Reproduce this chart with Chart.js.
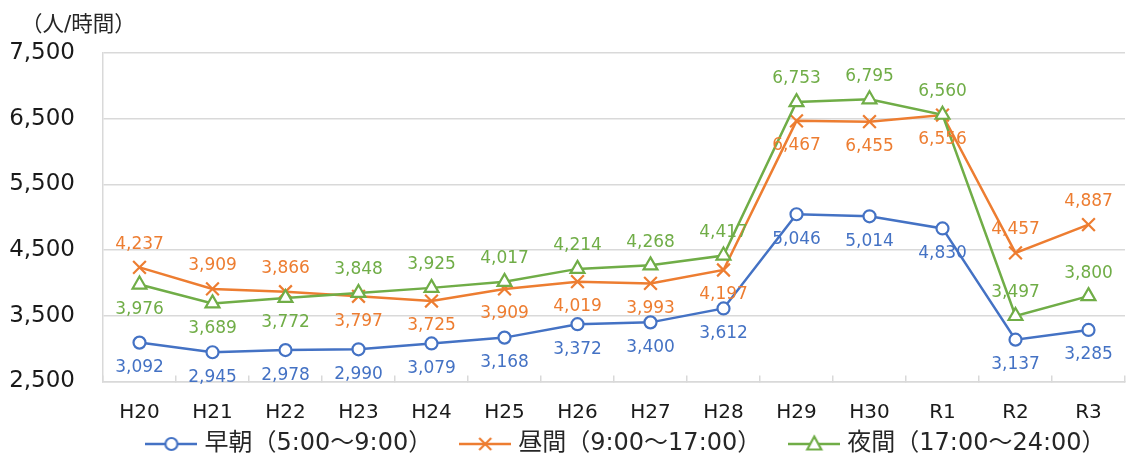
<!DOCTYPE html>
<html>
<head>
<meta charset="utf-8">
<script src="https://cdn.jsdelivr.net/npm/chart.js@4.4.0/dist/chart.umd.min.js"></script>
<style>
  html, body { margin: 0; padding: 0; background: #ffffff; overflow: hidden; }
  canvas { display: block; }
</style>
</head>
<body>
<canvas id="chart" width="1126" height="458"></canvas>
<script>
// Fiscal years (Heisei / Reiwa)
const categories = ['H20', 'H21', 'H22', 'H23', 'H24', 'H25', 'H26', 'H27', 'H28', 'H29', 'H30', 'R1', 'R2', 'R3'];

// Persons per hour by time band
const earlyMorning = [3092, 2945, 2978, 2990, 3079, 3168, 3372, 3400, 3612, 5046, 5014, 4830, 3137, 3285];
const daytime      = [4237, 3909, 3866, 3797, 3725, 3909, 4019, 3993, 4197, 6467, 6455, 6556, 4457, 4887];
const night        = [3976, 3689, 3772, 3848, 3925, 4017, 4214, 4268, 4417, 6753, 6795, 6560, 3497, 3800];

// Value axis ticks
const yTicks = [2500, 3500, 4500, 5500, 6500, 7500];

const seriesNames = ['早朝（5:00～9:00）', '昼間（9:00～17:00）', '夜間（17:00～24:00）'];
const unitLabel = '（人/時間）';

// Where each value label sits relative to its point
const earlyLabelSide = ['below','below','below','below','below','below','below','below','below','below','below','below','below','below'];
const dayLabelSide   = ['above','above','above','below','below','below','below','below','below','below','below','below','above','above'];
const nightLabelSide = ['below','below','below','above','above','above','above','above','above','above','above','above','above','above'];

const BLUE = '#4472C4';
const ORANGE = '#ED7D31';
const GREEN = '#70AD47';
const GRID = '#d9d9d9';
const NUM_FONT = '"DejaVu Sans", Verdana, sans-serif';
const MIX_FONT = '"DejaVu Sans", "Noto Sans CJK JP", sans-serif';
const X_LABEL_BAND = 47;

const labelSides = [earlyLabelSide, dayLabelSide, nightLabelSide];

// Legend swatches: a short line with the series marker in the middle
function makeSwatch(color, style) {
  const c = document.createElement('canvas');
  c.width = 52; c.height = 20;
  const g = c.getContext('2d');
  g.strokeStyle = color;
  g.lineWidth = 2.5;
  g.beginPath(); g.moveTo(0, 10); g.lineTo(52, 10); g.stroke();
  g.fillStyle = '#ffffff';
  g.lineWidth = 2.2;
  if (style === 'circle') {
    g.beginPath(); g.arc(26, 10, 6, 0, Math.PI * 2); g.fill(); g.stroke();
  } else if (style === 'crossRot') {
    g.beginPath();
    g.moveTo(20, 4); g.lineTo(32, 16);
    g.moveTo(32, 4); g.lineTo(20, 16);
    g.stroke();
  } else {
    g.beginPath();
    g.moveTo(26, 2.5); g.lineTo(33, 15.5); g.lineTo(19, 15.5); g.closePath();
    g.fill(); g.stroke();
  }
  return c;
}

const swatches = [makeSwatch(BLUE, 'circle'), makeSwatch(ORANGE, 'crossRot'), makeSwatch(GREEN, 'triangle')];

// Draws the numeric value next to every point
const valueLabels = {
  id: 'valueLabels',
  afterDatasetsDraw(chart) {
    const ctx = chart.ctx;
    ctx.save();
    ctx.font = '17px ' + NUM_FONT;
    ctx.textAlign = 'center';
    ctx.textBaseline = 'middle';
    chart.data.datasets.forEach((ds, di) => {
      const meta = chart.getDatasetMeta(di);
      const sides = labelSides[di];
      meta.data.forEach((pt, i) => {
        const y = pt.y + (sides[i] === 'above' ? -23 : 25);
        ctx.fillStyle = ds.borderColor;
        ctx.fillText(ds.data[i].toLocaleString('en-US'), pt.x, y);
      });
    });
    ctx.restore();
  }
};

// Unit caption above the value axis; the category label band and the legend
// share the space below the plot
const unitCaption = {
  id: 'unitCaption',
  afterLayout(chart) {
    const xs = chart.scales.x;
    if (xs) {
      xs.bottom = xs.top + X_LABEL_BAND;
      xs.height = X_LABEL_BAND;
    }
    const lg = chart.legend;
    if (lg) {
      const dx = 61.5, dy = 18.5;
      lg.left += dx; lg.right += dx;
      lg.top += dy; lg.bottom += dy;
    }
  },
  afterDraw(chart) {
    const ctx = chart.ctx;
    ctx.save();
    ctx.font = '21.5px ' + MIX_FONT;
    ctx.fillStyle = '#262626';
    ctx.textAlign = 'left';
    ctx.textBaseline = 'middle';
    ctx.fillText(unitLabel, 21, 25);
    ctx.restore();
  }
};

const seriesValues = [earlyMorning, daytime, night];
const seriesColors = [BLUE, ORANGE, GREEN];
const seriesPoints = ['circle', 'crossRot', 'triangle'];
const seriesRadius = [6, 9, 8];
const seriesOrder = [3, 2, 1];

const datasets = seriesValues.map((vals, i) => ({
  label: seriesNames[i],
  data: vals,
  borderColor: seriesColors[i],
  backgroundColor: '#ffffff',
  borderWidth: 2.5,
  pointStyle: seriesPoints[i],
  pointRadius: seriesRadius[i],
  pointHoverRadius: seriesRadius[i],
  pointBorderWidth: 2.2,
  pointBackgroundColor: '#ffffff',
  pointBorderColor: seriesColors[i],
  tension: 0,
  order: seriesOrder[i]
}));

new Chart(document.getElementById('chart'), {
  type: 'line',
  data: { labels: categories, datasets },
  plugins: [valueLabels, unitCaption],
  options: {
    responsive: false,
    animation: false,
    events: [],
    layout: { autoPadding: false, padding: { top: 53, right: 1, bottom: 10.5, left: 8 } },
    plugins: {
      tooltip: { enabled: false },
      title: { display: false },
      legend: {
        display: true,
        position: 'bottom',
        labels: {
          usePointStyle: true,
          pointStyleWidth: 42,
          padding: 32,
          color: '#262626',
          font: { family: MIX_FONT, size: 24 },
          generateLabels: () => seriesNames.map((name, i) => ({
            text: name,
            pointStyle: swatches[i],
            fillStyle: seriesColors[i],
            strokeStyle: seriesColors[i],
            lineWidth: 0,
            fontColor: '#262626',
            hidden: false,
            datasetIndex: i
          }))
        }
      }
    },
    scales: {
      x: {
        type: 'category',
        offset: true,
        afterFit: (s) => { s.height = 0; s.paddingLeft = 0; s.paddingRight = 0; },
        grid: {
          offset: true,
          drawOnChartArea: false,
          drawTicks: true,
          tickLength: -6,
          color: GRID,
          lineWidth: 1.5
        },
        border: { display: true, color: GRID, width: 1.5 },
        ticks: {
          color: '#1a1a1a',
          padding: 25,
          maxRotation: 0,
          autoSkip: false,
          font: { family: NUM_FONT, size: 20 }
        }
      },
      y: {
        min: 2500,
        max: 7500,
        afterFit: (s) => { s.width = 95; },
        afterBuildTicks: (s) => { s.ticks = yTicks.map(v => ({ value: v })); },
        grid: { color: GRID, lineWidth: 1.5, drawTicks: false },
        border: { display: true, color: GRID, width: 1.5 },
        ticks: {
          color: '#1a1a1a',
          padding: 28,
          font: { family: NUM_FONT, size: 23 },
          callback: (v) => Number(v).toLocaleString('en-US')
        }
      }
    }
  }
});
</script>
</body>
</html>
